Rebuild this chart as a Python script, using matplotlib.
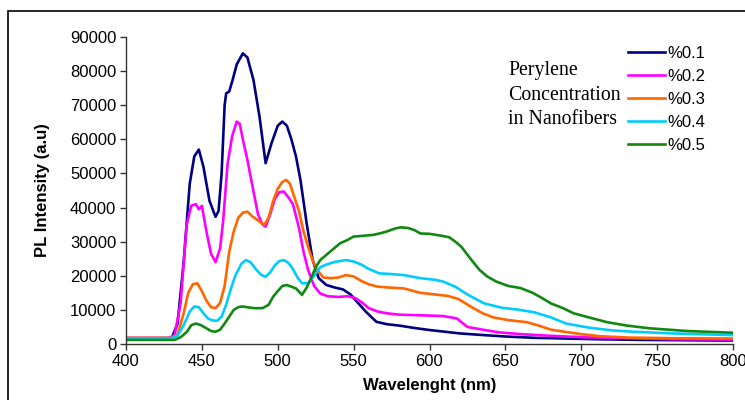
import matplotlib
matplotlib.use("Agg")
import matplotlib.pyplot as plt
import matplotlib.patches as patches

plt.rcParams['font.family'] = ['Liberation Sans', 'DejaVu Sans']

# 시리즈 데이터
wl_01 = [400, 425, 430, 434, 438, 442, 445, 448, 451, 455, 459, 461, 463, 465, 466, 468, 470, 473, 477,
         480, 484, 488, 492, 496, 500, 503, 506, 509, 512, 515, 519, 523, 527, 532, 538, 543, 548, 553,
         558, 565, 572, 580, 590, 600, 610, 620, 636, 650, 670, 690, 710, 740, 770, 800]
val_01 = [1500, 1500, 1600, 6000, 24000, 47000, 55000, 57000, 52000, 42000, 37300, 39000, 50000, 70000,
          73500, 74000, 77000, 82000, 85200, 84000, 77400, 66600, 53000, 59000, 64000, 65200, 64000, 60000,
          55000, 48000, 35500, 24600, 19300, 17300, 16500, 16000, 14500, 12000, 9500, 6500, 5800, 5400,
          4700, 4100, 3600, 3100, 2600, 2200, 1800, 1600, 1400, 1200, 1100, 1000]

wl_02 = [400, 428, 432, 436, 440, 443, 446, 448, 450, 453, 456, 459, 462, 464, 467, 470, 473, 475, 477,
         480, 483, 487, 490, 492, 495, 498, 501, 504, 507, 510, 514, 517, 520, 524, 528, 533, 540, 546,
         551, 556, 560, 566, 572, 580, 595, 609, 618, 625, 635, 646, 660, 680, 700, 730, 760, 800]
val_02 = [1800, 1800, 2500, 12000, 35000, 40500, 41000, 39500, 40500, 33000, 26500, 24000, 28000, 36000,
          53000, 61000, 65200, 64500, 60000, 54000, 47000, 38000, 35000, 34400, 38000, 42500, 44500, 44700,
          43000, 41000, 34000, 27000, 21700, 17000, 14800, 14000, 13800, 14000, 13500, 12000, 10500, 9500,
          9000, 8600, 8400, 8200, 7500, 5000, 4200, 3400, 2900, 2400, 2000, 1700, 1400, 1300]

wl_03 = [400, 430, 434, 438, 441, 444, 447, 450, 453, 456, 459, 462, 465, 468, 471, 474, 477, 480, 483,
         487, 491, 494, 497, 500, 503, 505.5, 508, 511, 514, 517, 520, 523, 526, 530, 535, 540, 545, 550,
         555, 560, 566, 575, 583, 594, 604, 612, 619, 627, 635, 642, 652, 664, 672, 680, 690, 700, 712,
         730, 760, 800]
val_03 = [1800, 1800, 2800, 9000, 15000, 17500, 17800, 15500, 12700, 10800, 10500, 12000, 17000, 27000,
          33000, 37000, 38500, 38800, 37500, 36200, 34900, 37000, 42000, 45500, 47500, 48100, 47000, 43000,
          39000, 33000, 28500, 24500, 21700, 19500, 19300, 19500, 20200, 19800, 18500, 17500, 16800, 16500,
          16300, 15000, 14500, 14100, 13200, 11000, 9000, 7800, 7000, 6400, 5400, 4200, 3500, 2900, 2300,
          1900, 1700, 1600]

wl_04 = [400, 430, 434, 438, 442, 445, 448, 451, 454, 457, 460, 463, 466, 469, 472, 476, 479, 482, 486,
         489, 492, 495, 498, 501, 504, 507, 510, 513, 516, 520, 524, 528, 532, 538, 545, 550, 555, 560,
         567, 575, 583, 594, 604, 609, 617, 625, 636, 648, 658, 669, 680, 690, 705, 720, 734, 760, 800]
val_04 = [1700, 1700, 2500, 5500, 9500, 11000, 10800, 9000, 7500, 6900, 6800, 8000, 11500, 16000, 20000,
          23500, 24600, 24000, 21700, 20300, 19700, 21000, 23000, 24300, 24600, 23800, 22000, 19500, 17800,
          17800, 20000, 22500, 23300, 24100, 24600, 24200, 23300, 22000, 20700, 20500, 20200, 19300, 18800,
          18300, 16800, 14500, 11900, 10600, 10100, 9300, 7800, 6000, 4800, 4000, 3600, 3100, 2600]

wl_05 = [400, 432, 436, 440, 443, 446, 449, 453, 456, 459, 462, 465, 468, 471, 474, 477, 481, 485, 490,
         494, 497, 500, 503, 506, 509, 512, 516, 519, 522, 525, 528, 533, 537, 541, 546, 550, 556, 563,
         568, 572, 577, 581, 586, 590, 594, 600, 607, 613, 617, 621, 627, 633, 638, 644, 652, 660, 668,
         674, 680, 688, 695, 705, 717, 730, 745, 770, 800]
val_05 = [1200, 1200, 2000, 3500, 5500, 6000, 5600, 4600, 3800, 3600, 4200, 6000, 8000, 10000, 10800,
          11000, 10700, 10500, 10500, 11500, 13900, 15500, 17000, 17300, 16800, 16300, 14400, 16500, 19300,
          22500, 24600, 26500, 28000, 29500, 30500, 31500, 31700, 32000, 32500, 33000, 33800, 34200, 34000,
          33400, 32400, 32300, 31800, 31300, 30000, 28500, 25000, 21700, 19800, 18300, 17000, 16400, 15000,
          13500, 11900, 10500, 9000, 7800, 6400, 5400, 4600, 3800, 3300]

labels = ['%0.1', '%0.2', '%0.3', '%0.4', '%0.5']
colors = ['#000080', '#ff00ff', '#ff6600', '#00ccff', '#118811']
series = [(wl_01, val_01), (wl_02, val_02), (wl_03, val_03), (wl_04, val_04), (wl_05, val_05)]

fig = plt.figure(figsize=(7.45, 4.0), dpi=100)
ax = fig.add_axes([126 / 745, 56 / 400, 607 / 745, 307 / 400])

for (x, y), c, lab in zip(series, colors, labels):
    ax.plot(x, y, color=c, lw=1.9, label=lab)

ax.set_xlim(400, 800)
ax.set_ylim(0, 90000)
ax.set_xticks(range(400, 801, 50))
ax.set_yticks(range(0, 90001, 10000))
for s in ['top', 'right']:
    ax.spines[s].set_visible(False)
for s in ['left', 'bottom']:
    ax.spines[s].set_color('#333333')
    ax.spines[s].set_linewidth(1.0)
ax.tick_params(direction='out', length=4, width=1.0, color='#333333', labelsize=12, pad=3)

ax.set_xlabel('Wavelenght (nm)', fontsize=12, fontweight='bold', labelpad=7)
ax.set_ylabel('PL Intensity (a.u)', fontsize=12, fontweight='bold', labelpad=14)

leg = ax.legend(loc='upper left', bbox_to_anchor=(628 / 745, 1 - 46 / 400), bbox_transform=fig.transFigure,
                frameon=False, fontsize=12, handlelength=2.2, handletextpad=0.15, labelspacing=0.48,
                borderpad=0, borderaxespad=0)

fig.text(508 / 745, 1 - 95 / 400, 'Perylene\nConcentration\nin Nanofibers', fontsize=14.3,
         family=['Liberation Serif', 'DejaVu Serif'], ha='left', va='center', linespacing=1.38)

# 바깥 테두리
fig.patches.append(patches.Rectangle((8 / 745, -0.1), 1.0, 1 - 11 / 400 + 0.1, transform=fig.transFigure,
                                     fill=False, edgecolor='black', lw=1.2))

plt.savefig('out.png', dpi=100)
plt.close()
